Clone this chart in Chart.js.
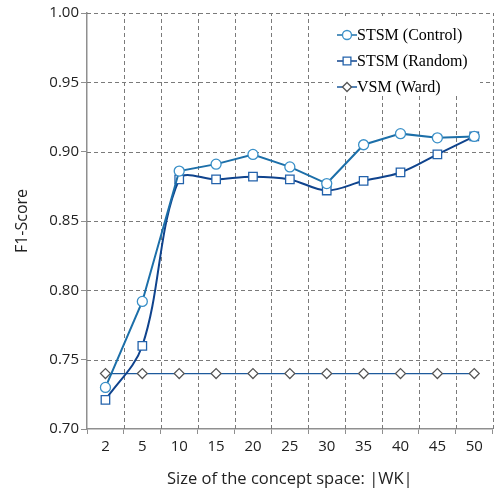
<!DOCTYPE html>
<html>
<head>
<meta charset="utf-8">
<script src="https://cdn.jsdelivr.net/npm/chart.js@4/dist/chart.umd.min.js"></script>
<style>
  html, body { margin: 0; padding: 0; background: #fff; }
  #wrap { width: 500px; height: 489px; }
</style>
</head>
<body>
<div id="wrap"><canvas id="chF1"></canvas></div>
<script>
// size of the concept space |WK|
var sizes = ['2', '5', '10', '15', '20', '25', '30', '35', '40', '45', '50'];

var stsmControl = [0.730, 0.792, 0.886, 0.891, 0.898, 0.889, 0.877, 0.905, 0.913, 0.910, 0.911];
var stsmRandom  = [0.721, 0.760, 0.880, 0.880, 0.882, 0.880, 0.872, 0.879, 0.885, 0.898, 0.911];
var vsmWard     = [0.740, 0.740, 0.740, 0.740, 0.740, 0.740, 0.740, 0.740, 0.740, 0.740, 0.740];

var gridColor = '#7a7a7a';
var axisColor = '#8f8f8f';
var tickFont = { family: 'Open Sans', size: 15 };

// dashed grid drawn from the scales (between categories on x)
var dashedGrid = {
  id: 'dashedGrid',
  beforeDatasetsDraw: function(chart) {
    var ctx = chart.ctx, area = chart.chartArea;
    var xs = chart.scales.x, ys = chart.scales.y;
    var step = xs.getPixelForValue(1) - xs.getPixelForValue(0);
    ctx.save();
    ctx.strokeStyle = gridColor;
    ctx.lineWidth = 1;
    ctx.setLineDash([4, 3]);
    for (var i = 0; i < sizes.length; i++) {
      var x = Math.round(xs.getPixelForValue(i) + step / 2) + 0.5;
      ctx.beginPath();
      ctx.moveTo(x, area.bottom);
      ctx.lineTo(x, area.top);
      ctx.stroke();
    }
    ys.ticks.forEach(function(t) {
      if (t.value <= 0.7) return;
      var y = Math.round(ys.getPixelForValue(t.value)) + 0.5;
      ctx.beginPath();
      ctx.moveTo(area.left, y);
      ctx.lineTo(area.right, y);
      ctx.stroke();
    });
    ctx.restore();
  }
};

// legend drawn inside the plot (top right), white box under it
var innerLegend = {
  id: 'innerLegend',
  afterDatasetsDraw: function(chart) {
    var ctx = chart.ctx;
    ctx.save();
    ctx.fillStyle = '#ffffff';
    ctx.fillRect(333, 19, 147, 77);
    ctx.font = '16px "Liberation Serif"';
    ctx.textBaseline = 'middle';
    chart.data.datasets.forEach(function(ds, i) {
      var y = 35 + i * 26;
      var cx = 347;
      ctx.setLineDash([]);
      ctx.strokeStyle = ds.borderColor;
      ctx.lineWidth = 1.5;
      ctx.beginPath();
      ctx.moveTo(337, y);
      ctx.lineTo(357, y);
      ctx.stroke();
      ctx.fillStyle = '#fff';
      ctx.strokeStyle = ds.pointBorderColor;
      ctx.lineWidth = 1.3;
      Chart.helpers.drawPoint(ctx, {
        pointStyle: ds.pointStyle,
        rotation: 0,
        borderWidth: 1.3,
        radius: ds.pointStyle === 'rect' ? 5.5 : 4.5
      }, cx, y);
      ctx.fillStyle = '#000';
      ctx.fillText(ds.label, 357, y + 1);
    });
    ctx.restore();
  }
};

var chF1 = document.getElementById('chF1');
new Chart(chF1, {
  type: 'line',
  data: {
    labels: sizes,
    datasets: [
      {
        label: 'STSM (Control)',
        data: stsmControl,
        borderColor: '#1c6fa9',
        borderWidth: 2,
        pointStyle: 'circle',
        pointRadius: 5,
        pointBorderWidth: 1.3,
        pointBorderColor: '#3a90c8',
        pointBackgroundColor: '#ffffff',
        tension: 0
      },
      {
        label: 'STSM (Random)',
        data: stsmRandom,
        borderColor: '#0f438d',
        borderWidth: 2,
        pointStyle: 'rect',
        pointRadius: 6,
        pointBorderWidth: 1.3,
        pointBorderColor: '#2362ab',
        pointBackgroundColor: '#ffffff',
        tension: 0.35
      },
      {
        label: 'VSM (Ward)',
        data: vsmWard,
        borderColor: '#1d5a9c',
        borderWidth: 1.3,
        pointStyle: 'rectRot',
        pointRadius: 5,
        pointBorderWidth: 1.2,
        pointBorderColor: '#555555',
        pointBackgroundColor: '#ffffff',
        tension: 0
      }
    ]
  },
  options: {
    responsive: true,
    maintainAspectRatio: false,
    animation: false,
    layout: { padding: { top: 13, right: 0, left: 0, bottom: 0 } },
    plugins: {
      legend: { display: false },
      tooltip: { enabled: false }
    },
    scales: {
      x: {
        offset: true,
        grid: {
          offset: true,
          drawOnChartArea: false,
          tickLength: 5,
          tickColor: axisColor
        },
        border: { display: true, color: axisColor, width: 1.5 },
        ticks: { color: '#222', font: tickFont, padding: 4, maxRotation: 0 },
        title: {
          display: true,
          text: 'Size of the concept space: |WK|',
          color: '#222',
          font: { family: 'Open Sans', size: 16.5 },
          padding: { top: 3, bottom: 0 }
        },
        afterFit: function(scale) { scale.height = 60; }
      },
      y: {
        min: 0.70,
        max: 1.00,
        ticks: {
          stepSize: 0.05,
          color: '#222',
          font: tickFont,
          padding: 2,
          callback: function(v) { return v.toFixed(2); }
        },
        grid: { drawOnChartArea: false, tickLength: 6, tickColor: axisColor },
        border: { display: true, color: axisColor, width: 1.5 },
        title: {
          display: true,
          text: 'F1-Score',
          color: '#222',
          font: { family: 'Open Sans', size: 16 },
          padding: { top: 13, bottom: 0 }
        },
        afterFit: function(scale) { scale.width = 87; }
      }
    }
  },
  plugins: [dashedGrid, innerLegend]
});
</script>
</body>
</html>
